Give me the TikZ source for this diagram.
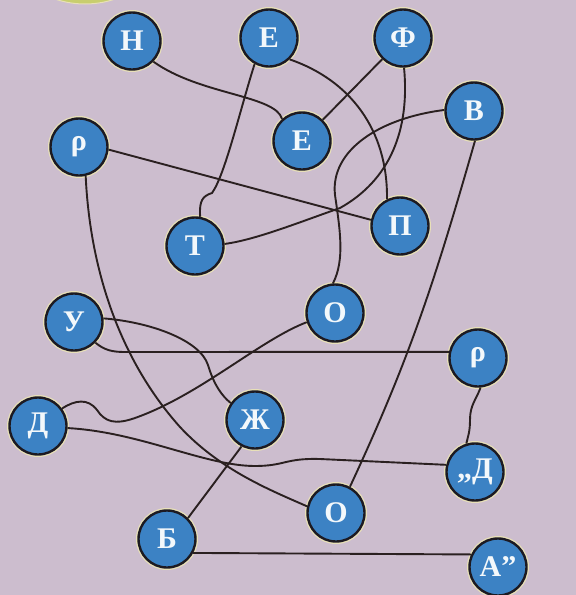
\documentclass[tikz,border=0pt]{standalone}
\usepackage{fontspec}
\setmainfont{Liberation Serif}
\usepackage{tikz}
\definecolor{paper}{RGB}{204,189,206}
\definecolor{ball}{RGB}{60,130,196}
\definecolor{rim}{RGB}{28,26,34}
\definecolor{halo}{RGB}{232,224,184}
\definecolor{wire}{RGB}{42,32,32}
\definecolor{leaf}{RGB}{200,206,110}

\begin{document}
\begin{tikzpicture}[
  x=1pt, y=-1pt,
  letter/.style={circle, fill=ball, draw=rim, line width=2.4pt, minimum size=57pt, inner sep=0pt,
    text=white!94!ball, font=\fontsize{30}{30}\selectfont\bfseries, preaction={draw=halo, line width=5pt}},
  link/.style={draw=wire, line width=1.9pt}
]
\useasboundingbox (0,0) rectangle (576,595);
\clip (0,0) rectangle (576,595);
\fill[paper] (0,0) rectangle (576,595);
\filldraw[fill=leaf, draw=halo, line width=1pt] (85,-89) circle (93);

\node[letter] (h) at (132,41) {Н};
\node[letter] (e1) at (269,38) {Е};
\node[letter] (f) at (403,38) {Ф};
\node[letter] (e2) at (302,141) {Е};
\node[letter] (v) at (474,111) {В};
\node[letter] (r1) at (79,147) {ρ};
\node[letter] (p) at (400,226) {П};
\node[letter] (t) at (195,246) {Т};
\node[letter] (o1) at (335,313) {О};
\node[letter] (u) at (74,322) {У};
\node[letter] (r2) at (478,358) {ρ};
\node[letter] (d1) at (38,426) {Д};
\node[letter] (zh) at (255,420) {Ж};
\node[letter] (d2) at (475,472) {„Д};
\node[letter] (o2) at (336,513) {О};
\node[letter] (b) at (167,539) {Б};
\node[letter] (a) at (498,567) {А”};

\draw[link] (h.-44) .. controls (200,95) and (275,95) .. (e2.132);
\draw[link] (e1.-119) .. controls (240,110) and (225,175) .. (212,193) .. controls (203,196) and (199,200) .. (t.80);
\draw[link] (e1.-46) .. controls (350,80) and (388,130) .. (p.116);
\draw[link] (f) -- (e2);
\draw[link] (f.-88) .. controls (410,130) and (390,180) .. (340,208) .. controls (300,222) and (255,240) .. (t.4);
\draw[link] (v.178) .. controls (380,118) and (330,150) .. (335,195) .. controls (340,230) and (345,260) .. (o1.94);
\draw[link] (v.-88) to[out=-106, in=65] (o2.62);
\draw[link] (r1.-5) -- (p.168);
\draw[link] (r1.-77) .. controls (90,270) and (120,360) .. (180,427) .. controls (220,470) and (270,490) .. (o2.167);
\draw[link] (u.7) .. controls (150,322) and (200,340) .. (208,365) .. controls (214,385) and (222,396) .. (zh.145);
\draw[link] (u.-44) to[out=-40, in=180] (125,352) -- (r2.168);
\draw[link] (d1.36) .. controls (75,400) and (88,398) .. (97,410) .. controls (105,422) and (115,425) .. (135,418) .. controls (200,395) and (260,340) .. (o1.198);
\draw[link] (d1.-4) .. controls (140,432) and (205,466) .. (255,466) .. controls (285,466) and (285,458) .. (320,459) -- (d2.166);
\draw[link] (zh.-117) -- (b.45);
\draw[link] (r2.-85) .. controls (476,400) and (470,405) .. (470,420) .. controls (470,432) and (468,436) .. (d2.107);
\draw[link] (b.-28) -- (a.155);
\end{tikzpicture}
\end{document}
